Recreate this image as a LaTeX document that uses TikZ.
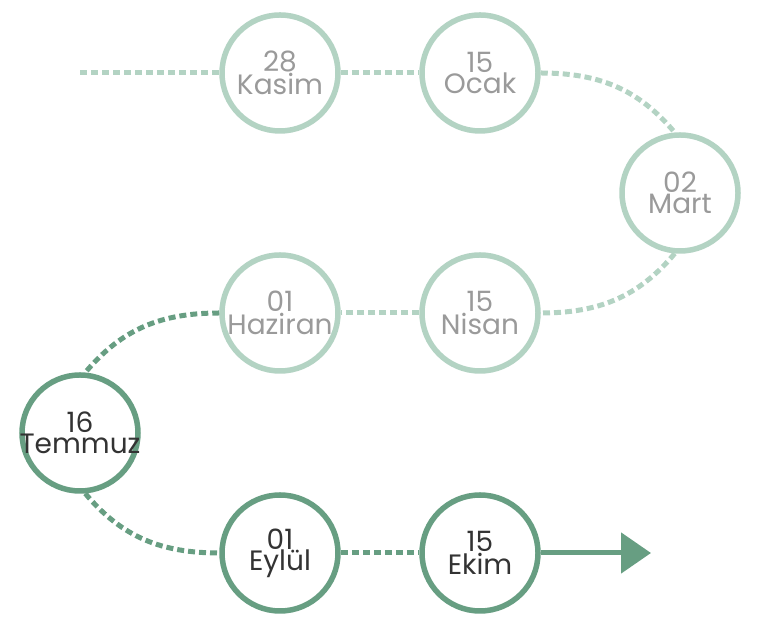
\documentclass[tikz,border=0pt]{standalone}
\usepackage{fontspec}
\setmainfont{Poppins}
\usetikzlibrary{arrows.meta}
\definecolor{lightg}{HTML}{B3D3C3}
\definecolor{darkg}{HTML}{679E82}
\definecolor{lighttxt}{HTML}{9A9A9A}
\definecolor{darktxt}{HTML}{333333}
\newcommand{\dtxt}[2]{\makebox[0pt]{#1}\\\makebox[0pt]{#2}}
\tikzset{
  date/.style={circle, minimum size=116pt, inner sep=0pt, line width=5.5pt, fill=white,
    align=center, font=\fontsize{28}{21}\selectfont},
  lightdate/.style={date, draw=lightg, text=lighttxt},
  darkdate/.style={date, draw=darkg, text=darktxt},
  dline/.style={line width=5pt, dash pattern=on 7pt off 4pt},
  lightline/.style={dline, draw=lightg},
  darkline/.style={dline, draw=darkg},
}
\begin{document}
\begin{tikzpicture}[x=1pt,y=1pt]
\useasboundingbox (0,0) rectangle (760,617);
\coordinate (start) at (80,544);
\coordinate (tip) at (651,64);
\node[lightdate] (kasim) at (280,544) {\dtxt{28}{Kasim}};
\node[lightdate] (ocak) at (480,544) {\dtxt{15}{Ocak}};
\node[lightdate] (mart) at (680,424) {\dtxt{02}{Mart}};
\node[lightdate] (haziran) at (280,304) {\dtxt{01}{Haziran}};
\node[lightdate] (nisan) at (480,304) {\dtxt{15}{Nisan}};
\node[darkdate] (temmuz) at (80,184) {\dtxt{16}{Temmuz}};
\node[darkdate] (eylul) at (280,64) {\dtxt{01}{Eylül}};
\node[darkdate] (ekim) at (480,64) {\dtxt{15}{Ekim}};
\draw[lightline] (start) -- (kasim.west);
\draw[lightline] (kasim) -- (ocak);
\draw[lightline] (ocak.east) to[out=0,in=130] (mart.95);
\draw[lightline] (mart.265) to[out=230,in=0] (nisan.east);
\draw[lightline] (nisan) -- (haziran);
\draw[darkline] (haziran.west) to[out=180,in=50] (temmuz.85);
\draw[darkline] (temmuz.275) to[out=310,in=180] (eylul.west);
\draw[darkline] (eylul) -- (ekim);
\draw[darkg, line width=5pt, -{Triangle[length=30pt,width=40pt]}] (ekim.east) -- (tip);
\end{tikzpicture}
\end{document}
